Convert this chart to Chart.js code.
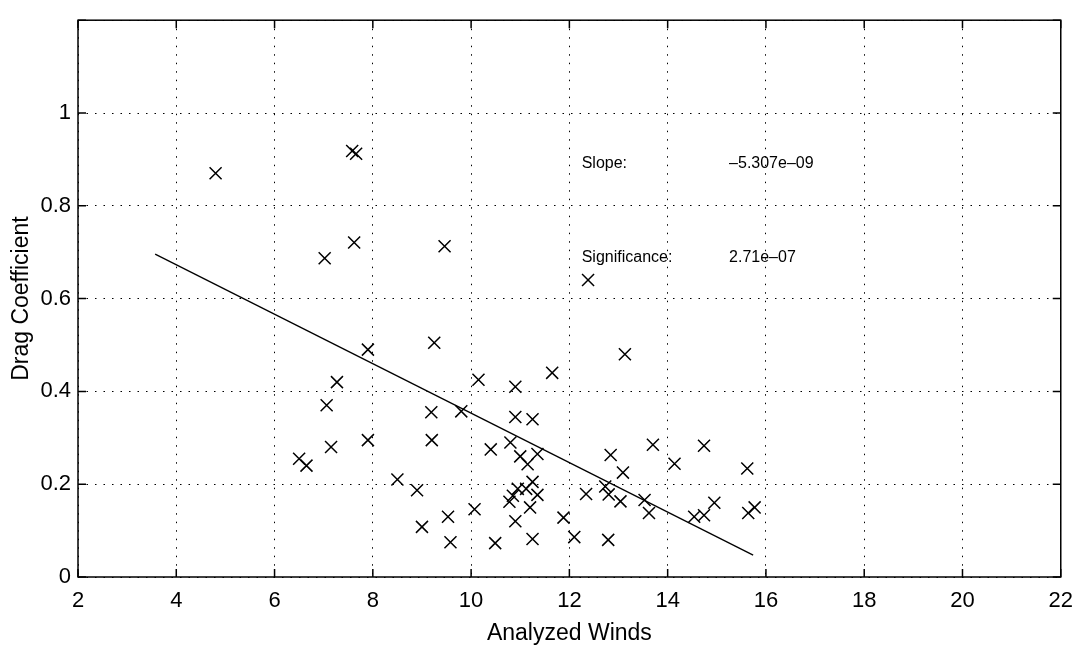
<!DOCTYPE html>
<html>
<head>
  <meta charset="utf-8">
  <script src="https://cdn.jsdelivr.net/npm/chart.js@4.4.1/dist/chart.umd.min.js"></script>
  <style>
    html, body { margin: 0; padding: 0; background: #fff; }
  </style>
</head>
<body>
<canvas id="dragChart" width="1084" height="650"></canvas>

<script type="text/javascript">
  // analyzed winds (x) and drag coefficient (y), one entry per sample
  const winds = [4.8, 7.58, 7.66, 7.02, 7.62, 9.46, 12.38, 7.9, 9.25, 13.13,
                 10.15, 10.9, 11.65, 7.27, 7.06, 7.15, 7.9, 6.5, 6.65, 9.19,
                 9.8, 9.2, 8.5, 8.9, 9.53, 9.0, 9.58, 10.9, 11.25, 10.8,
                 10.4, 11.0, 11.35, 11.15, 11.25, 10.95, 11.12, 11.35, 10.85, 10.78,
                 11.2, 10.9, 10.07, 11.88, 10.49, 11.25, 12.1, 13.7, 12.84, 14.14,
                 13.09, 12.34, 12.73, 12.8, 13.04, 13.53, 13.62, 12.79, 14.74, 15.62,
                 14.95, 14.74, 14.54, 15.77, 15.64];
  const drag = [0.87, 0.918, 0.912, 0.687, 0.721, 0.713, 0.64, 0.49, 0.505, 0.48,
                0.425, 0.41, 0.44, 0.42, 0.37, 0.28, 0.295, 0.255, 0.24, 0.355,
                0.357, 0.295, 0.21, 0.187, 0.13, 0.108, 0.075, 0.345, 0.34, 0.29,
                0.275, 0.26, 0.265, 0.243, 0.205, 0.19, 0.19, 0.177, 0.175, 0.162,
                0.15, 0.12, 0.146, 0.128, 0.073, 0.082, 0.086, 0.285, 0.263, 0.244,
                0.225, 0.179, 0.195, 0.178, 0.163, 0.166, 0.138, 0.08, 0.283, 0.234,
                0.16, 0.133, 0.13, 0.15, 0.138];

  // regression line, start and end
  const fitWinds = [3.57, 15.74];
  const fitDrag = [0.696, 0.047];

  // text written inside the plot
  const noteLabels = ['Slope:', 'Significance:'];
  const noteValues = ['\u20135.307e\u201309', '2.71e\u201307'];

  const FONT = "'Liberation Sans', Arial, Helvetica, sans-serif";
  Chart.defaults.font.family = FONT;
  Chart.defaults.color = '#000';

  let points = winds.map((w, i) => ({x: w, y: drag[i]}));
  let fitLine = fitWinds.map((w, i) => ({x: w, y: fitDrag[i]}));

  // box round the plot, inward ticks (matlab style) and the two notes
  const boxPlugin = {
    id: 'boxPlugin',
    afterDraw(chart) {
      const ctx = chart.ctx;
      const a = chart.chartArea;
      const xs = chart.scales.x;
      const ys = chart.scales.y;
      const len = 8;

      ctx.save();
      ctx.strokeStyle = '#000';
      ctx.lineWidth = 1.5;
      ctx.strokeRect(a.left, a.top, a.right - a.left, a.bottom - a.top);

      ctx.beginPath();
      xs.ticks.forEach(t => {
        let px = xs.getPixelForValue(t.value);
        ctx.moveTo(px, a.bottom); ctx.lineTo(px, a.bottom - len);
        ctx.moveTo(px, a.top); ctx.lineTo(px, a.top + len);
      });
      ys.ticks.forEach(t => {
        let py = ys.getPixelForValue(t.value);
        ctx.moveTo(a.left, py); ctx.lineTo(a.left + len, py);
        ctx.moveTo(a.right, py); ctx.lineTo(a.right - len, py);
      });
      ctx.stroke();

      ctx.font = '16px ' + FONT;
      ctx.fillStyle = '#000';
      ctx.textBaseline = 'middle';
      ctx.textAlign = 'left';
      const rows = [0.89, 0.688];
      for (let i = 0; i < noteLabels.length; i++) {
        let py = ys.getPixelForValue(rows[i]);
        ctx.fillText(noteLabels[i], xs.getPixelForValue(12.25), py);
        ctx.fillText(noteValues[i], xs.getPixelForValue(15.25), py);
      }
      ctx.restore();
    }
  };

  let ctx = document.getElementById('dragChart').getContext('2d');

  let chart = new Chart(ctx, {
    type: 'scatter',
    data: {
      datasets: [{
        label: 'samples',
        data: points,
        pointStyle: 'crossRot',
        pointRadius: 8.5,
        pointBorderWidth: 1.5,
        borderColor: '#000',
        backgroundColor: 'rgba(0,0,0,0)'
      }, {
        type: 'line',
        label: 'fit',
        data: fitLine,
        showLine: true,
        pointRadius: 0,
        borderColor: '#000',
        borderWidth: 1.3,
        fill: false
      }]
    },
    options: {
      responsive: false,
      animation: false,
      devicePixelRatio: 1,
      layout: { padding: { top: 10, right: 17, left: 0, bottom: 0 } },
      plugins: {
        legend: { display: false },
        tooltip: { enabled: false }
      },
      scales: {
        x: {
          type: 'linear',
          min: 2,
          max: 22,
          // dotted grid like the original
          border: { display: false, dash: [1.5, 7] },
          grid: { color: '#000', lineWidth: 1, drawTicks: false },
          ticks: { stepSize: 2, padding: 11, font: { size: 22 } },
          title: { display: true, text: 'Analyzed Winds', font: { size: 23 }, padding: { top: 0, bottom: 3 } },
          afterFit(scale) { scale.height = 73; }
        },
        y: {
          type: 'linear',
          min: 0,
          max: 1.2,
          border: { display: false, dash: [1.5, 7] },
          grid: { color: '#000', lineWidth: 1, drawTicks: false },
          ticks: {
            stepSize: 0.2,
            padding: 7,
            font: { size: 22 },
            callback: v => (v > 1.05 ? '' : String(Number(v.toFixed(1))))
          },
          title: { display: true, text: 'Drag Coefficient', font: { size: 23 }, padding: { top: 8, bottom: 0 } },
          afterFit(scale) { scale.width = 78; }
        }
      }
    },
    plugins: [boxPlugin]
  });
</script>
</body>
</html>
